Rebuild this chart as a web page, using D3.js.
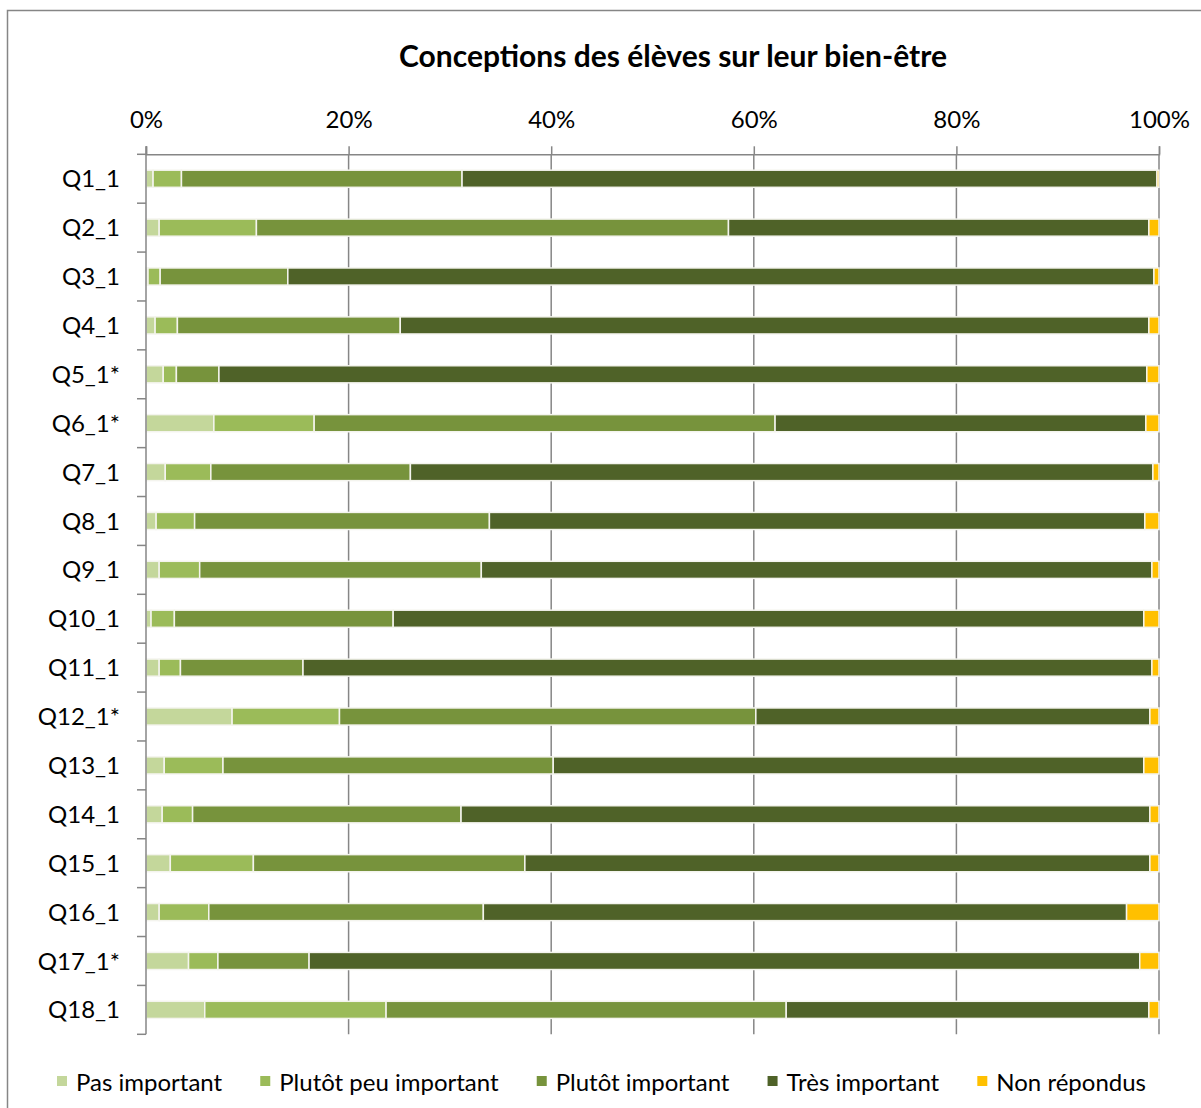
<!DOCTYPE html>
<html>
<head>
<meta charset="utf-8">
<script src="https://cdn.jsdelivr.net/npm/d3@7"></script>
<style>
  body { margin: 0; background: #fff; }
  svg text { font-family: Lato, "Open Sans", sans-serif; fill: #000; }
</style>
</head>
<body>
<div id="chart"></div>
<script>
// Data (percent of pupils)
const categories = ["Q1_1", "Q2_1", "Q3_1", "Q4_1", "Q5_1*", "Q6_1*", "Q7_1", "Q8_1", "Q9_1",
  "Q10_1", "Q11_1", "Q12_1*", "Q13_1", "Q14_1", "Q15_1", "Q16_1", "Q17_1*", "Q18_1"];

const seriesNames = ["Pas important", "Plutôt peu important", "Plutôt important", "Très important", "Non répondus"];

const pasImportant      = [0.7, 1.3, 0.2, 0.9, 1.7, 6.7, 1.9, 1.0, 1.3, 0.5, 1.3, 8.5, 1.8, 1.6, 2.4, 1.3, 4.2, 5.8];
const plutotPeuImportant = [2.8, 9.6, 1.2, 2.2, 1.3, 9.9, 4.5, 3.8, 4.0, 2.3, 2.1, 10.6, 5.8, 3.0, 8.2, 4.9, 2.9, 17.9];
const plutotImportant   = [27.7, 46.6, 12.6, 22.0, 4.2, 45.5, 19.7, 29.1, 27.8, 21.6, 12.1, 41.1, 32.6, 26.5, 26.8, 27.1, 9.0, 39.5];
const tresImportant     = [68.6, 41.5, 85.5, 73.9, 91.6, 36.6, 73.3, 64.7, 66.2, 74.1, 83.8, 38.9, 58.3, 68.0, 61.7, 63.5, 82.0, 35.8];
const nonRepondus       = [0.2, 1.0, 0.5, 1.0, 1.2, 1.3, 0.6, 1.4, 0.7, 1.5, 0.7, 0.9, 1.5, 0.9, 0.9, 3.2, 1.9, 1.0];

const xTicks = [0, 20, 40, 60, 80, 100];

const colors = ["#C4D79B", "#9BBB59", "#77933C", "#4F6228", "#FFC000"];

/** Build rows for d3.stack */
const seriesValues = [pasImportant, plutotPeuImportant, plutotImportant, tresImportant, nonRepondus];
const rows = categories.map((c, i) => {
  const r = { cat: c };
  seriesNames.forEach((s, k) => { r[s] = seriesValues[k][i]; });
  return r;
});

const stacked = d3.stack().keys(seriesNames)(rows);

/** Sizes */
const width = 1201, height = 1108;
const plot = { left: 146, right: 1159, top: 154.3, bottom: 1034.3 };
const grey = "#868686";
const labelSize = "24px";

const svg = d3.select("#chart").append("svg")
  .attr("width", width)
  .attr("height", height);

// outer chart border
svg.append("rect")
  .attr("x", 7.5).attr("y", 10.5)
  .attr("width", width + 10).attr("height", height + 10)
  .attr("fill", "#fff")
  .attr("stroke", grey)
  .attr("stroke-width", 1.5);

const x = d3.scaleLinear().domain([0, 100]).range([plot.left, plot.right]);
const y = d3.scaleBand().domain(categories).range([plot.top, plot.bottom])
  .paddingInner(0.65).paddingOuter(0.325);

/** Title */
svg.append("text")
  .attr("x", 673).attr("y", 67)
  .attr("text-anchor", "middle")
  .style("font-size", "30px")
  .style("font-weight", "bold")
  .text("Conceptions des élèves sur leur bien-être");

/** Vertical gridlines */
svg.append("g")
  .selectAll("line")
  .data(xTicks.slice(1))
  .join("line")
  .attr("x1", d => x(d)).attr("x2", d => x(d))
  .attr("y1", plot.top).attr("y2", plot.bottom)
  .attr("stroke", grey)
  .attr("stroke-width", 1.5);

/** Top axis (percent) */
const xAxis = d3.axisTop(x)
  .tickValues(xTicks)
  .tickSize(8)
  .tickPadding(18)
  .tickFormat(d => d + "%");

const xAxisG = svg.append("g")
  .attr("transform", "translate(0," + plot.top + ")")
  .call(xAxis);
xAxisG.select("path.domain").attr("stroke", grey).attr("stroke-width", 1.5);
xAxisG.selectAll(".tick line").attr("stroke", grey).attr("stroke-width", 1.5);
xAxisG.selectAll(".tick text")
  .attr("font-family", null)
  .style("font-size", labelSize);

/** Bars */
svg.append("g")
  .selectAll("g")
  .data(stacked)
  .join("g")
  .attr("fill", (d, i) => colors[i])
  .selectAll("rect")
  .data(d => d)
  .join("rect")
  .attr("x", d => x(d[0]))
  .attr("y", d => y(d.data.cat))
  .attr("width", d => x(d[1]) - x(d[0]))
  .attr("height", y.bandwidth())
  .attr("stroke", "#f4f4ee")
  .attr("stroke-width", 1.5);

/** Left category axis */
const yTickPos = d3.range(categories.length + 1).map(i => plot.top + i * y.step());
const yAxisG = svg.append("g");
yAxisG.append("line")
  .attr("x1", plot.left).attr("x2", plot.left)
  .attr("y1", plot.top - 8).attr("y2", plot.bottom)
  .attr("stroke", grey).attr("stroke-width", 1.5);
yAxisG.selectAll("line.tick")
  .data(yTickPos)
  .join("line")
  .attr("class", "tick")
  .attr("x1", plot.left - 9).attr("x2", plot.left)
  .attr("y1", d => d).attr("y2", d => d)
  .attr("stroke", grey).attr("stroke-width", 1.5);
yAxisG.selectAll("text")
  .data(categories)
  .join("text")
  .attr("x", 120)
  .attr("y", d => y(d) + y.bandwidth() / 2)
  .attr("dy", "0.36em")
  .attr("text-anchor", "end")
  .style("font-size", labelSize)
  .text(d => d);

/** Legend */
const legend = svg.append("g").attr("transform", "translate(0,1082)");
const items = legend.selectAll("g")
  .data(seriesNames)
  .join("g");
items.append("rect")
  .attr("x", 0).attr("y", -6)
  .attr("width", 10).attr("height", 10)
  .attr("fill", (d, i) => colors[i]);
items.append("text")
  .attr("x", 19)
  .attr("dy", "0.36em")
  .style("font-size", labelSize)
  .text(d => d);

// spread legend items between x=57 and x=1146, as in the reference
let widths = [];
items.each(function() { widths.push(this.getBBox().width); });
const gap = (1146 - 57 - d3.sum(widths)) / (widths.length - 1);
let pos = 57;
items.attr("transform", (d, i) => {
  const t = "translate(" + pos + ",0)";
  pos += widths[i] + gap;
  return t;
});
</script>
</body>
</html>
